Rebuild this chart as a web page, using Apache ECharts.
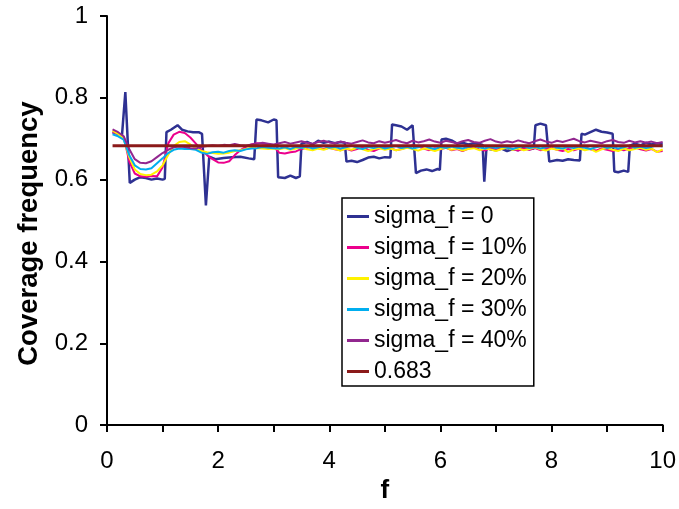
<!DOCTYPE html>
<html><head><meta charset="utf-8">
<script src="https://cdn.jsdelivr.net/npm/echarts@6/dist/echarts.min.js"></script>
<style>html,body{margin:0;padding:0;background:#fff}#c{width:679px;height:509px}</style>
</head><body><div id="c"></div>
<script>
const seriesNames = ['sigma_f = 0','sigma_f = 10%','sigma_f = 20%','sigma_f = 30%','sigma_f = 40%','0.683'];
const xTicks = [0,2,4,6,8,10];
const yTicks = [0,0.2,0.4,0.6,0.8,1];

const fGrid = [0.1,0.2,0.3,0.4,0.5,0.6,0.7,0.8,0.9,1.0,
 1.1,1.2,1.3,1.4,1.5,1.6,1.7,1.8,1.9,2.0,
 2.1,2.2,2.3,2.4,2.5,2.6,2.7,2.8,2.9,3.0,
 3.1,3.2,3.3,3.4,3.5,3.6,3.7,3.8,3.9,4.0,
 4.1,4.2,4.3,4.4,4.5,4.6,4.7,4.8,4.9,5.0,
 5.1,5.2,5.3,5.4,5.5,5.6,5.7,5.8,5.9,6.0,
 6.1,6.2,6.3,6.4,6.5,6.6,6.7,6.8,6.9,7.0,
 7.1,7.2,7.3,7.4,7.5,7.6,7.7,7.8,7.9,8.0,
 8.1,8.2,8.3,8.4,8.5,8.6,8.7,8.8,8.9,9.0,
 9.1,9.2,9.3,9.4,9.5,9.6,9.7,9.8,9.9,10.0];

const sigma0 = [[0.1,0.716],[0.2,0.712],[0.27,0.709],[0.33,0.814],[0.41,0.592],[0.5,0.600],[0.6,0.606],[0.7,0.604],[0.8,0.600],[0.9,0.603],[1.0,0.600],[1.04,0.602],
 [1.07,0.716],[1.15,0.722],[1.27,0.733],[1.35,0.722],[1.45,0.718],[1.55,0.716],[1.65,0.716],[1.71,0.712],[1.78,0.537],[1.84,0.656],[1.95,0.650],[2.1,0.653],[2.25,0.655],[2.4,0.656],[2.55,0.652],[2.65,0.650],
 [2.69,0.747],[2.78,0.745],[2.9,0.740],[3.0,0.747],[3.05,0.745],[3.08,0.606],[3.2,0.604],[3.3,0.610],[3.4,0.604],[3.47,0.608],
 [3.5,0.688],[3.6,0.692],[3.7,0.686],[3.8,0.695],[3.9,0.690],[4.0,0.693],[4.1,0.689],[4.2,0.692],[4.28,0.690],[4.31,0.644],[4.4,0.646],[4.5,0.643],[4.6,0.648],[4.7,0.654],[4.8,0.656],[4.9,0.652],[5.0,0.655],[5.1,0.654],
 [5.13,0.735],[5.2,0.733],[5.3,0.730],[5.4,0.722],[5.5,0.733],[5.53,0.730],[5.56,0.616],[5.65,0.622],[5.75,0.625],[5.85,0.621],[5.95,0.626],[5.99,0.624],
 [6.02,0.698],[6.1,0.700],[6.2,0.696],[6.3,0.688],[6.4,0.690],[6.5,0.686],[6.6,0.689],[6.7,0.687],[6.76,0.685],[6.79,0.595],[6.83,0.680],[6.9,0.674],[7.0,0.672],[7.1,0.676],[7.2,0.670],[7.3,0.675],[7.4,0.672],[7.5,0.678],[7.6,0.674],[7.68,0.676],
 [7.71,0.733],[7.8,0.737],[7.9,0.733],[7.93,0.732],[7.96,0.644],[8.1,0.648],[8.2,0.646],[8.3,0.650],[8.4,0.648],[8.51,0.647],
 [8.54,0.712],[8.6,0.710],[8.7,0.716],[8.8,0.722],[8.9,0.717],[9.0,0.715],[9.1,0.712],[9.13,0.620],[9.2,0.618],[9.3,0.622],[9.38,0.619],
 [9.41,0.683],[9.5,0.688],[9.6,0.684],[9.7,0.690],[9.8,0.686],[9.9,0.689],[10.0,0.687]];

const sigma10 = [0.716,0.712,0.705,0.645,0.615,0.608,0.607,0.609,0.608,0.630,
 0.688,0.710,0.717,0.714,0.703,0.688,0.672,0.660,0.650,0.642,
 0.641,0.645,0.660,0.672,0.680,0.686,0.689,0.688,0.687,0.680,
 0.666,0.664,0.667,0.669,0.675,0.678,0.681,0.677,0.675,0.678,
 0.674,0.672,0.676,0.671,0.675,0.679,0.673,0.670,0.676,0.680,
 0.677,0.672,0.675,0.679,0.684,0.681,0.676,0.672,0.677,0.674,
 0.678,0.672,0.675,0.670,0.676,0.679,0.674,0.671,0.677,0.673,
 0.676,0.680,0.675,0.671,0.676,0.673,0.677,0.672,0.675,0.678,
 0.673,0.670,0.675,0.672,0.676,0.680,0.674,0.671,0.676,0.673,
 0.670,0.675,0.672,0.676,0.679,0.674,0.671,0.675,0.668,0.670];

const sigma20 = [0.720,0.712,0.700,0.655,0.625,0.614,0.611,0.612,0.620,0.635,
 0.660,0.682,0.692,0.694,0.686,0.676,0.670,0.667,0.665,0.663,
 0.664,0.666,0.670,0.672,0.675,0.678,0.677,0.676,0.675,0.676,
 0.674,0.677,0.673,0.676,0.679,0.674,0.672,0.676,0.673,0.677,
 0.675,0.671,0.676,0.673,0.678,0.674,0.670,0.675,0.677,0.673,
 0.676,0.672,0.674,0.678,0.675,0.671,0.676,0.674,0.670,0.675,
 0.678,0.673,0.676,0.671,0.675,0.677,0.672,0.676,0.674,0.670,
 0.675,0.678,0.673,0.676,0.672,0.675,0.679,0.674,0.671,0.676,
 0.673,0.677,0.667,0.674,0.676,0.672,0.675,0.668,0.674,0.677,
 0.673,0.670,0.676,0.672,0.675,0.678,0.673,0.676,0.667,0.674];

const sigma30 = [0.711,0.706,0.698,0.660,0.635,0.626,0.625,0.628,0.640,0.652,
 0.665,0.673,0.676,0.675,0.675,0.673,0.666,0.663,0.667,0.668,
 0.666,0.670,0.672,0.670,0.674,0.676,0.677,0.680,0.678,0.677,
 0.676,0.679,0.675,0.680,0.677,0.681,0.676,0.679,0.682,0.678,
 0.680,0.676,0.679,0.683,0.678,0.675,0.680,0.677,0.681,0.676,
 0.679,0.682,0.677,0.680,0.676,0.679,0.683,0.678,0.675,0.680,
 0.677,0.681,0.678,0.676,0.680,0.683,0.679,0.676,0.680,0.677,
 0.681,0.678,0.675,0.679,0.682,0.677,0.680,0.676,0.679,0.683,
 0.678,0.676,0.680,0.677,0.681,0.678,0.675,0.679,0.682,0.677,
 0.680,0.676,0.679,0.683,0.678,0.681,0.677,0.680,0.684,0.681];

const sigma40 = [0.723,0.716,0.706,0.675,0.650,0.641,0.640,0.645,0.655,0.665,
 0.673,0.679,0.681,0.680,0.677,0.676,0.680,0.682,0.684,0.683,
 0.685,0.684,0.687,0.684,0.683,0.686,0.688,0.690,0.688,0.686,
 0.689,0.692,0.688,0.691,0.694,0.690,0.688,0.692,0.695,0.691,
 0.689,0.693,0.690,0.688,0.692,0.696,0.691,0.689,0.694,0.690,
 0.693,0.697,0.692,0.689,0.695,0.691,0.694,0.698,0.693,0.690,
 0.695,0.692,0.689,0.694,0.697,0.692,0.690,0.695,0.699,0.693,
 0.690,0.694,0.691,0.696,0.692,0.689,0.694,0.698,0.693,0.690,
 0.695,0.692,0.696,0.700,0.694,0.691,0.695,0.692,0.689,0.694,
 0.697,0.692,0.690,0.695,0.691,0.694,0.690,0.693,0.689,0.692];

const refF = [0.1, 10];
const refV = [0.683, 0.683];

const colors = ['#2E3192','#EC008C','#FFF200','#00AEEF','#92278F','#8B1A1A'];

function pairs(xs, ys){ return xs.map((x,i)=>[x, ys[i]]); }

const FONT = 'Liberation Sans, Arial, sans-serif';
const chart = echarts.init(document.getElementById('c'), null, {renderer:'canvas'});
const lineDefs = [sigma0, pairs(fGrid,sigma10), pairs(fGrid,sigma20), pairs(fGrid,sigma30), pairs(fGrid,sigma40), pairs(refF,refV)];
const widths = [2.5,2,2,2,2,3];
chart.setOption({
  animation:false,
  backgroundColor:'#fff',
  color: colors,
  grid:{left:107,right:11,top:16,bottom:74,containLabel:false},
  xAxis:{type:'value',min:0,max:10,interval:1,
    axisLine:{lineStyle:{color:'#000',width:2}},
    axisTick:{length:7,lineStyle:{color:'#000',width:2}},
    splitLine:{show:false},
    axisLabel:{formatter:v=>xTicks.includes(v)?String(v):'',fontSize:24,color:'#000',fontFamily:FONT,margin:24},
    name:'f',nameLocation:'middle',nameGap:49,
    nameTextStyle:{fontSize:26,fontWeight:'bold',color:'#000',fontFamily:FONT}},
  yAxis:{type:'value',min:0,max:1,interval:0.2,
    axisLine:{show:true,lineStyle:{color:'#000',width:2}},
    axisTick:{show:true,length:7,lineStyle:{color:'#000',width:2}},
    splitLine:{show:false},
    axisLabel:{formatter:v=>String(yTicks.find(t=>Math.abs(t-v)<1e-9)),fontSize:24,color:'#000',fontFamily:FONT,margin:19},
    name:'Coverage frequency',nameLocation:'middle',nameGap:61,
    nameTextStyle:{fontSize:27.5,fontWeight:'bold',color:'#000',fontFamily:FONT,padding:[0,26,0,0]}},
  legend:{orient:'vertical',left:342,top:198,padding:[7,7,3,5],itemGap:8,itemWidth:22,itemHeight:3,icon:'rect',
    borderColor:'#000',borderWidth:1.5,backgroundColor:'#fff',
    textStyle:{fontSize:23,color:'#000',fontFamily:FONT,lineHeight:23},
    data:seriesNames},
  series: lineDefs.map((d,i)=>({
    name:seriesNames[i],type:'line',data:d,showSymbol:false,symbol:'none',
    lineStyle:{width:widths[i],color:colors[i]},
    itemStyle:{color:colors[i]}
  }))
});
</script></body></html>
